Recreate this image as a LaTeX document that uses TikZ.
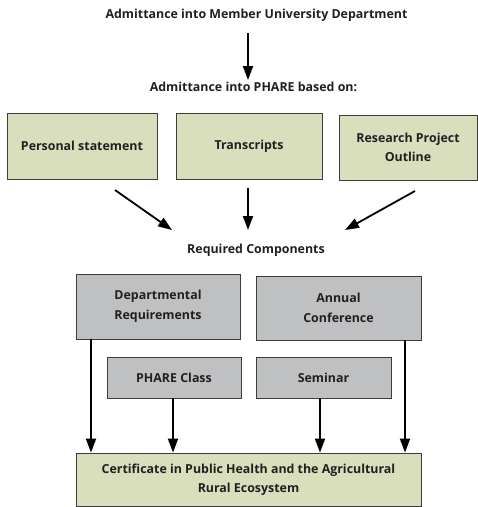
\documentclass[tikz,border=0pt]{standalone}
\usepackage{fontspec}
\setmainfont{Open Sans}
\usetikzlibrary{arrows.meta,calc}
\definecolor{txt}{HTML}{231F20}
\definecolor{greenfill}{HTML}{D9DEBD}
\definecolor{grayfill}{HTML}{BFC0C2}
\definecolor{edge}{HTML}{3C3C3C}
\tikzset{
  lbl/.style={font=\bfseries\fontsize{12.4}{19.5}\selectfont, text=txt, align=center, inner sep=0pt},
  gbox/.style={lbl, draw=edge, line width=0.8pt, fill=greenfill},
  grbox/.style={lbl, draw=edge, line width=0.8pt, fill=grayfill},
  arr/.style={draw=black, line width=1.8pt, -{Triangle[width=10pt,length=14pt]}}
}
\begin{document}
\begin{tikzpicture}[x=1pt,y=-1pt]
\useasboundingbox (0,0) rectangle (478,507);
\node[lbl] (t1) at (256.5,15) {Admittance into Member University Department};
\node[lbl] (t2) at (253.5,87) {Admittance into PHARE based on:};
\node[gbox, minimum width=150pt, minimum height=66pt] (ps) at (82,146) {Personal statement};
\node[gbox, minimum width=146pt, minimum height=66pt] (tr) at (249,146) {Transcripts};
\node[gbox, minimum width=138pt, minimum height=65pt] (rp) at (408,147.5) {Research Project\\Outline};
\node[lbl] (rc) at (256,250) {Required Components};
\node[grbox, minimum width=164pt, minimum height=65pt] (dept) at (158,306.5) {Departmental\\Requirements};
\node[grbox, minimum width=165pt, minimum height=64pt] (ann) at (338.5,308) {Annual\\Conference};
\node[grbox, minimum width=134pt, minimum height=41pt] (pc) at (174,377.5) {PHARE Class};
\node[grbox, minimum width=135pt, minimum height=41pt] (sem) at (323.5,377.5) {Seminar};
\node[gbox, minimum width=345pt, minimum height=53pt] (cert) at (248.5,479.5) {Certificate in Public Health and the Agricultural\\Rural Ecosystem};
% top arrow
\coordinate (a0s) at (248,33);
\coordinate (a0e) at (248,80);
\draw[arr] (a0s) -- (a0e);
% diagonal arrows
\coordinate (p1s) at (115,190); \coordinate (p1e) at (172,230);
\coordinate (p2s) at (248,188); \coordinate (p2e) at (248,230);
\coordinate (p3s) at (415,191); \coordinate (p3e) at (345,230);
\draw[arr] (p1s) -- (p1e);
\draw[arr] (p2s) -- (p2e);
\draw[arr] (p3s) -- (p3e);
% bottom arrows
\coordinate (b1) at (91,339);
\coordinate (b2) at (173,398);
\coordinate (b3) at (320,398);
\coordinate (b4) at (405,340);
\draw[arr] (b1) -- (b1 |- cert.north);
\draw[arr] (b2) -- (b2 |- cert.north);
\draw[arr] (b3) -- (b3 |- cert.north);
\draw[arr] (b4) -- (b4 |- cert.north);
\end{tikzpicture}
\end{document}
